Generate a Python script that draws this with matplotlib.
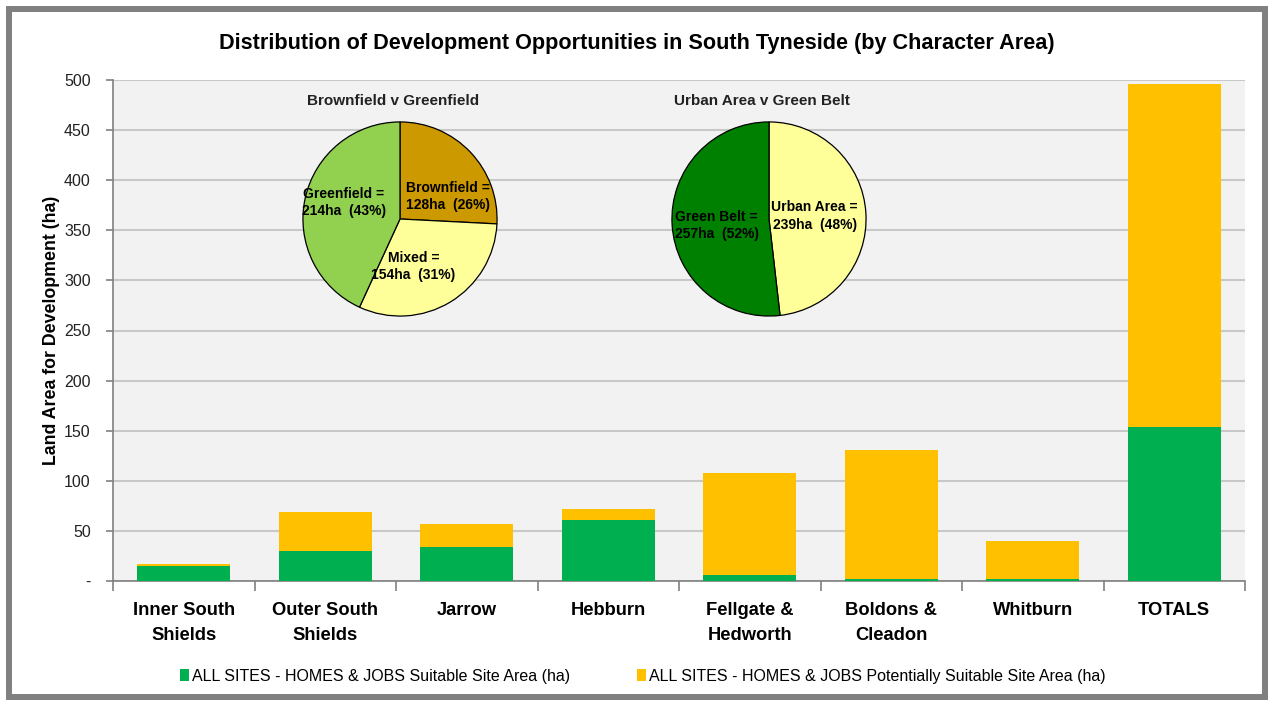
import numpy as np
import matplotlib
matplotlib.use("Agg")
import matplotlib.pyplot as plt
from matplotlib.patches import Patch, Rectangle

plt.rcParams["font.family"] = ["Liberation Sans", "DejaVu Sans"]

# bar data (ha)
areas = ["Inner South\nShields", "Outer South\nShields", "Jarrow", "Hebburn",
         "Fellgate &\nHedworth", "Boldons &\nCleadon", "Whitburn", "TOTALS"]
suitable = [15, 30, 34, 61, 6, 2, 2, 154]
potential = [1.5, 39, 22.5, 11, 102, 128.5, 38, 342]
legend_names = ["ALL SITES - HOMES & JOBS Suitable Site Area (ha)",
                "ALL SITES - HOMES & JOBS Potentially Suitable Site Area (ha)"]

# pie data
pie1_title = "Brownfield v Greenfield"
pie1_names = ["Brownfield", "Mixed", "Greenfield"]
pie1_ha = [128, 154, 214]
pie1_pct = [26, 31, 43]
pie2_title = "Urban Area v Green Belt"
pie2_names = ["Urban Area", "Green Belt"]
pie2_ha = [239, 257]
pie2_pct = [48, 52]

W, H = 1274, 704
fig = plt.figure(figsize=(W / 100, H / 100), dpi=100)
fig.patch.set_facecolor("white")

def px_axes(x0, y0, x1, y1):
    return fig.add_axes([x0 / W, 1 - y1 / H, (x1 - x0) / W, (y1 - y0) / H])

# outer frame
fig.patches.append(Rectangle((9 / W, 1 - 697 / H), 1256 / W, 688 / H,
                             transform=fig.transFigure, fill=False,
                             edgecolor="#808080", linewidth=4.3))

ax = px_axes(113, 80, 1245, 581)
ax.set_facecolor("#F2F2F2")
x = np.arange(len(areas))
ax.bar(x, suitable, width=0.66, color="#00B050", zorder=3)
ax.bar(x, potential, width=0.66, bottom=suitable, color="#FFC000", zorder=3)

ax.set_xlim(-0.5, len(areas) - 0.5)
ax.set_ylim(0, 500)
ticks = np.arange(0, 501, 50)
ax.set_yticks(ticks)
ax.set_yticklabels(["-"] + [str(t) for t in ticks[1:]], fontsize=11.5,
                   color="#222222")
ax.yaxis.grid(True, color="#C8C8C8", linewidth=1.5, zorder=0)
ax.set_axisbelow(True)
ax.set_xticks(x)
ax.set_xticklabels(areas, fontsize=13.2, fontweight="bold", linespacing=1.6)
ax.set_xticks(np.arange(-0.5, len(areas)), minor=True)
ax.tick_params(axis="x", which="major", length=0, pad=15)
ax.tick_params(axis="x", which="minor", length=7, color="#808080", width=1.2)
ax.tick_params(axis="y", length=5, color="#808080", width=1.2, pad=11)
for s in ["top", "right"]:
    ax.spines[s].set_visible(False)
for s in ["left", "bottom"]:
    ax.spines[s].set_color("#808080")
    ax.spines[s].set_linewidth(1.2)
ax.set_ylabel("Land Area for Development (ha)", fontsize=12.8, fontweight="bold",
              labelpad=3)

fig.text(637 / W, 1 - 43 / H,
         "Distribution of Development Opportunities in South Tyneside (by Character Area)",
         ha="center", va="center", fontsize=15.6, fontweight="bold")

# legend
handles = [Patch(facecolor="#00B050"), Patch(facecolor="#FFC000")]
fig.legend(handles, legend_names, loc="center", bbox_to_anchor=(643 / W, 1 - 676 / H),
           ncol=2, frameon=False, fontsize=11.5, handlelength=0.55, handleheight=0.8,
           handletextpad=0.2, columnspacing=4.2)

def draw_pie(cx, cy, r, title, names, ha_vals, pct, colors, label_pos):
    pax = px_axes(cx - r, cy - r, cx + r, cy + r)
    pax.pie(ha_vals, colors=colors, startangle=90, counterclock=False,
            radius=1.0, wedgeprops=dict(edgecolor="black", linewidth=0.9))
    pax.set_xlim(-1.02, 1.02)
    pax.set_ylim(-1.02, 1.02)
    pax.set_aspect("equal")
    pax.axis("off")
    for name, v, p, (lx, ly) in zip(names, ha_vals, pct, label_pos):
        pax.text(lx, ly, f"{name} =\n{v}ha  ({p}%)", ha="center", va="center",
                 fontsize=10, fontweight="bold", linespacing=1.3)
    fig.text((cx - 7) / W, 1 - 101 / H, title, ha="center", va="center",
             fontsize=11, fontweight="bold", color="#222222")

draw_pie(400, 219, 99, pie1_title, pie1_names, pie1_ha, pie1_pct,
         ["#CC9900", "#FFFF99", "#92D050"],
         [(0.49, 0.23), (0.14, -0.49), (-0.58, 0.17)])
draw_pie(769, 219, 99, pie2_title, pie2_names, pie2_ha, pie2_pct,
         ["#FFFF99", "#008000"],
         [(0.47, 0.03), (-0.54, -0.07)])

fig.savefig("out.png", dpi=100, facecolor="white")
